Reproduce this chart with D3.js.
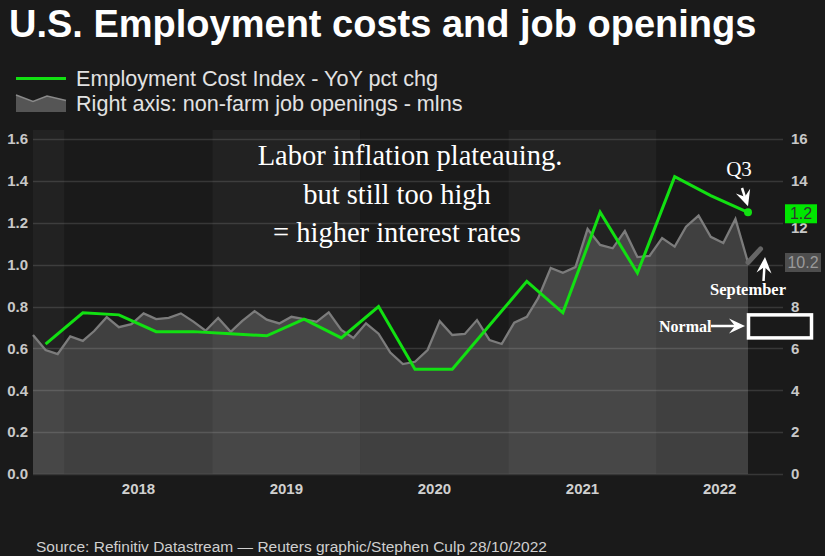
<!DOCTYPE html>
<html>
<head>
<meta charset="utf-8">
<script src="https://cdn.jsdelivr.net/npm/d3@7"></script>
<style>
  html, body { margin: 0; padding: 0; background: #1a1a1a; }
  svg { display: block; }
</style>
</head>
<body>
<div class="chart-container"></div>
<script>
// ECI quarterly (left axis), plotted mid-quarter
const eciQuarters = ['2017Q4','2018Q1','2018Q2','2018Q3','2018Q4','2019Q1','2019Q2','2019Q3','2019Q4',
                     '2020Q1','2020Q2','2020Q3','2020Q4','2021Q1','2021Q2','2021Q3','2021Q4','2022Q1','2022Q2','2022Q3'];
const eciValues = [0.62, 0.77, 0.76, 0.68, 0.68, 0.67, 0.66, 0.74, 0.65,
                   0.80, 0.50, 0.50, 0.71, 0.92, 0.77, 1.25, 0.96, 1.42, 1.33, 1.25];

// job openings monthly (right axis), Oct 2017 .. Aug 2022, mid-month
const jobFirstMonth = '2017-10';
const jobLastMonth = '2022-08';
const jobValues = [
  6.64, 5.92, 5.73,                                                       // 2017
  6.57, 6.36, 6.83, 7.49, 7.01, 7.16, 7.67, 7.40, 7.46, 7.67, 7.28, 6.84, // 2018
  7.45, 6.79, 7.30, 7.78, 7.37, 7.19, 7.51, 7.40, 7.27, 7.72, 6.88, 6.50, // 2019
  7.20, 6.70, 5.80, 5.25, 5.36, 5.92, 7.30, 6.64, 6.69, 7.35, 6.40, 6.21, // 2020
  7.23, 7.51, 8.40, 9.84, 9.61, 9.88, 11.70, 10.94, 10.78, 11.60, 10.36, 10.42, // 2021
  11.27, 10.86, 11.81, 12.34, 11.33, 11.03, 12.18, 10.10                  // 2022
];
// September stub drawn on at the end
const septMonths = ['2022-08', '2022-09'];
const septValues = [10.1, 10.75];
const normalRange = [6.5, 7.6];

const leftTicks = [0, 0.2, 0.4, 0.6, 0.8, 1.0, 1.2, 1.4, 1.6];
const rightTicks = [0, 2, 4, 6, 8, 12, 14, 16]; // 10 sits under the 10.2 box
const yearLabels = [2018, 2019, 2020, 2021, 2022];
const bandYears = [2017, 2018, 2019, 2020, 2021, 2022];
const noteLines = ['Labor inflation plateauing.', 'but still too high', '= higher interest rates'];

const parseMonth = s => { const [y, m] = s.split('-').map(Number); return new Date(y, m - 1, 15); };
const parseQuarter = s => new Date(+s.slice(0, 4), (+s.slice(5) - 1) * 3 + 1, 15);

const jobDates = d3.timeMonth.range(new Date(2017, 9, 1), d3.timeMonth.offset(new Date(2022, 7, 1), 1))
                   .map(d => new Date(d.getFullYear(), d.getMonth(), 15));
const jobData = jobValues.map((v, i) => ({date: jobDates[i], value: v}));
const eciData = eciValues.map((v, i) => ({date: parseQuarter(eciQuarters[i]), value: v}));
const septData = septValues.map((v, i) => ({date: parseMonth(septMonths[i]), value: v}));

const W = 825, H = 556;
const plot = {left: 33, dataRight: 748, right: 783, top: 139, bottom: 474, bandTop: 130};
const serif = "'Liberation Serif', 'DejaVu Serif', serif";
const sans = "'Liberation Sans', Arial, sans-serif";

const svg = d3.select('.chart-container').append('svg')
  .attr('width', W).attr('height', H);
svg.append('rect').attr('width', W).attr('height', H).attr('fill', '#1a1a1a');

const x = d3.scaleTime()
  .domain([parseMonth(jobFirstMonth), parseMonth(jobLastMonth)])
  .range([plot.left, plot.dataRight]);
const yL = d3.scaleLinear().domain([0, 1.6]).range([plot.bottom, plot.top]);
const yR = d3.scaleLinear().domain([0, 16]).range([plot.bottom, plot.top]);

// year bands
svg.append('g').selectAll('rect')
  .data(bandYears)
  .join('rect')
  .attr('x', d => Math.max(plot.left, x(new Date(d, 0, 1))))
  .attr('width', d => Math.min(plot.dataRight, x(new Date(d + 1, 0, 1))) - Math.max(plot.left, x(new Date(d, 0, 1))))
  .attr('y', plot.bandTop)
  .attr('height', plot.bottom - plot.bandTop)
  .attr('fill', d => d % 2 ? '#222222' : '#1a1a1a');

// job openings area
svg.append('path')
  .datum(jobData)
  .attr('d', d3.area().x(d => x(d.date)).y0(plot.bottom).y1(d => yR(d.value)))
  .attr('fill', 'rgba(255,255,255,0.17)');

// gridlines
svg.append('g').selectAll('line')
  .data(leftTicks)
  .join('line')
  .attr('x1', plot.left).attr('x2', plot.right)
  .attr('y1', d => Math.round(yL(d)) + 0.5).attr('y2', d => Math.round(yL(d)) + 0.5)
  .attr('stroke', 'rgba(255,255,255,0.13)')
  .attr('stroke-width', 1.3);

svg.append('path')
  .datum(jobData)
  .attr('d', d3.line().x(d => x(d.date)).y(d => yR(d.value)))
  .attr('fill', 'none')
  .attr('stroke', '#7c7c7c')
  .attr('stroke-width', 2.3)
  .attr('stroke-linejoin', 'miter');

// september stub
svg.append('path')
  .datum(septData)
  .attr('d', d3.line().x(d => x(d.date)).y(d => yR(d.value)))
  .attr('stroke', '#666')
  .attr('stroke-width', 5)
  .attr('stroke-linecap', 'round');

// ECI line
svg.append('path')
  .datum(eciData)
  .attr('d', d3.line().x(d => x(d.date)).y(d => yL(d.value)))
  .attr('fill', 'none')
  .attr('stroke', '#12e012')
  .attr('stroke-width', 3)
  .attr('stroke-linejoin', 'miter');

const lastEci = eciData[eciData.length - 1];
svg.append('circle')
  .attr('cx', x(lastEci.date)).attr('cy', yL(lastEci.value))
  .attr('r', 4).attr('fill', '#12e012');

// axes
const leftAxis = d3.axisLeft(yL).tickValues(leftTicks).tickFormat(d3.format('.1f')).tickSize(0).tickPadding(0);
svg.append('g').attr('transform', 'translate(28,0)').call(leftAxis)
  .call(g => g.select('.domain').remove())
  .selectAll('text')
  .attr('font-family', sans).attr('font-size', 15).attr('font-weight', 'bold').attr('fill', '#c8c8c8');

const rightAxis = d3.axisRight(yR).tickValues(rightTicks).tickFormat(d3.format('d')).tickSize(0).tickPadding(0);
svg.append('g').attr('transform', 'translate(791,0)').call(rightAxis)
  .call(g => g.select('.domain').remove())
  .selectAll('text')
  .attr('font-family', sans).attr('font-size', 15).attr('font-weight', 'bold').attr('fill', '#c8c8c8')
  .attr('dy', d => d === 12 ? '0.62em' : '0.32em');

svg.append('g').selectAll('text')
  .data(yearLabels)
  .join('text')
  .attr('x', d => (x(new Date(d, 0, 1)) + Math.min(plot.right, x(new Date(d + 1, 0, 1)))) / 2)
  .attr('y', 494)
  .attr('text-anchor', 'middle')
  .attr('font-family', sans).attr('font-size', 15).attr('font-weight', 'bold').attr('fill', '#d0d0d0')
  .text(d => d);

// value boxes on the right
function valueBox(cy, w, label, fill, color){
  const g = svg.append('g').attr('transform', `translate(785,${cy})`);
  g.append('rect').attr('x', 0).attr('y', -9.5).attr('width', w).attr('height', 19).attr('fill', fill);
  g.append('text').attr('x', w / 2).attr('y', 5.5).attr('text-anchor', 'middle')
    .attr('font-family', sans).attr('font-size', 16).attr('fill', color).text(label);
}
valueBox(yL(lastEci.value) + 1.5, 32, '1.2', '#00e600', '#333');
valueBox(262.5, 36, '10.2', '#4e4e4e', '#9a9a9a');

// title + legend
svg.append('text').attr('x', 9).attr('y', 37)
  .attr('font-family', sans).attr('font-size', 38).attr('font-weight', 'bold').attr('fill', '#fff')
  .text('U.S. Employment costs and job openings');

svg.append('line').attr('x1', 16).attr('x2', 66).attr('y1', 78.5).attr('y2', 78.5)
  .attr('stroke', '#12e012').attr('stroke-width', 3);
svg.append('text').attr('x', 76).attr('y', 86)
  .attr('font-family', sans).attr('font-size', 21.6).attr('fill', '#e2e2e2')
  .text('Employment Cost Index - YoY pct chg');
svg.append('path').attr('d', 'M16,95 L33,101.5 L47,96 L66,100.5 L66,112 L16,112 Z')
  .attr('fill', '#555');
svg.append('path').attr('d', 'M16,95 L33,101.5 L47,96 L66,100.5')
  .attr('fill', 'none').attr('stroke', '#8a8a8a').attr('stroke-width', 1.5);
svg.append('text').attr('x', 76).attr('y', 111)
  .attr('font-family', sans).attr('font-size', 21.6).attr('fill', '#e2e2e2')
  .text('Right axis: non-farm job openings - mlns');

// annotation text
svg.append('g').selectAll('text')
  .data(noteLines)
  .join('text')
  .attr('x', (d, i) => i === 0 ? 410 : 397)
  .attr('y', (d, i) => 165 + i * 38.5)
  .attr('text-anchor', 'middle')
  .attr('font-family', serif).attr('font-size', 28.5).attr('fill', '#fff')
  .text(d => d);

// arrows
function arrow(x1, y1, x2, y2){
  const a = Math.atan2(y2 - y1, x2 - x1);
  const L = 16, hw = 7.5, notch = 10;
  const bx = x2 - L * Math.cos(a), by = y2 - L * Math.sin(a);
  const nx = x2 - notch * Math.cos(a), ny = y2 - notch * Math.sin(a);
  const px = -Math.sin(a), py = Math.cos(a);
  svg.append('line').attr('x1', x1).attr('y1', y1).attr('x2', nx).attr('y2', ny)
    .attr('stroke', '#fff').attr('stroke-width', 2.5);
  svg.append('path')
    .attr('d', `M${x2},${y2} L${bx + hw * px},${by + hw * py} L${nx},${ny} L${bx - hw * px},${by - hw * py} Z`)
    .attr('fill', '#fff');
}

const qx = x(lastEci.date), qy = yL(lastEci.value);
svg.append('text').attr('x', 739).attr('y', 175.5)
  .attr('text-anchor', 'middle').attr('font-family', serif).attr('font-size', 21).attr('fill', '#fff')
  .text('Q3');
arrow(742, 188, qx, qy - 6);

svg.append('text').attr('x', 748).attr('y', 295)
  .attr('text-anchor', 'middle').attr('font-family', serif).attr('font-size', 16.5)
  .attr('font-weight', 'bold').attr('fill', '#fff')
  .text('September');
arrow(763.5, 281, 765, 257);

// normal range box
svg.append('rect')
  .attr('x', x(parseMonth(jobLastMonth)) + 0.5)
  .attr('y', yR(normalRange[1]))
  .attr('width', 63)
  .attr('height', yR(normalRange[0]) - yR(normalRange[1]))
  .attr('fill', '#1a1a1a').attr('stroke', '#fff').attr('stroke-width', 3.5);
svg.append('text').attr('x', 659).attr('y', 331.5)
  .attr('font-family', serif).attr('font-size', 16).attr('font-weight', 'bold').attr('fill', '#fff')
  .text('Normal');
arrow(711, 326, 745, 326);

// footer
svg.append('text').attr('x', 36).attr('y', 551.5)
  .attr('font-family', sans).attr('font-size', 15.5).attr('fill', '#cfcfcf')
  .text('Source: Refinitiv Datastream \u2014 Reuters graphic/Stephen Culp 28/10/2022');
</script>
</body>
</html>
